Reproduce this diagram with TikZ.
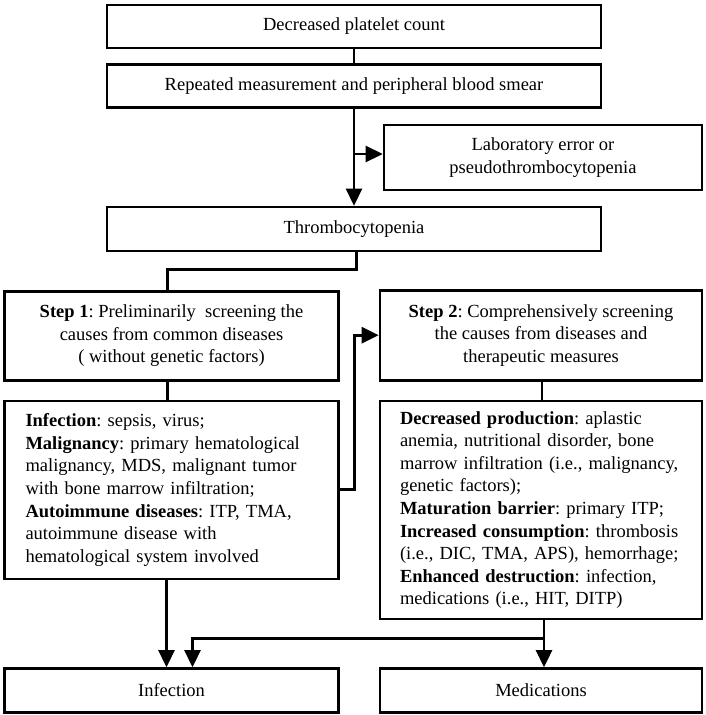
\documentclass[tikz,border=0pt]{standalone}
\usepackage{fontspec}
\setmainfont{Liberation Serif}
\usetikzlibrary{arrows.meta}
\begin{document}
\frenchspacing
\begin{tikzpicture}[x=1pt,y=-1pt,
  box/.style={draw=black, line width=2.6pt, fill=white, inner sep=0pt, align=center,
    font=\fontsize{18.5}{22.6}\selectfont\frenchspacing},
  listbox/.style={box, align=left, anchor=center},
  conn/.style={line width=2.6pt},
  arr/.style={conn, -{Triangle[length=17pt,width=16pt]}}
]
\useasboundingbox (0,0) rectangle (705,715);
\fill[white] (0,0) rectangle (705,715);

\node[box, minimum width=494pt, minimum height=43pt] (top) at (354,26.5) {Decreased platelet count};
\node[box, minimum width=494pt, minimum height=43pt] (rep) at (354,86) {Repeated measurement and peripheral blood smear};
\node[box, minimum width=318pt, minimum height=65pt] (lab) at (543,157.5) {Laboratory error or\\pseudothrombocytopenia};
\node[box, minimum width=494pt, minimum height=44pt] (thr) at (354,229) {Thrombocytopenia};

\node[box, minimum width=334pt, minimum height=89pt] (s1) at (171.5,335.7) {\textbf{Step 1}: Preliminarily\ \ screening the\\causes from common diseases\\( without genetic factors)};
\node[box, minimum width=322pt, minimum height=90pt] (s2) at (541,335.2) {\textbf{Step 2}: Comprehensively screening\\the causes from diseases and\\therapeutic measures};

\node[listbox, text width=292pt, inner xsep=21pt, minimum height=178pt] (d1) at (171.5,490)
 {\mbox{\textbf{Infection}: sepsis, virus;}\\
  \mbox{\textbf{Malignancy}: primary hematological}\\
  \mbox{malignancy, MDS, malignant tumor}\\
  \mbox{with bone marrow infiltration;}\\
  \mbox{\textbf{Autoimmune diseases}: ITP,\ TMA,}\\
  \mbox{autoimmune disease with}\\
  \mbox{hematological system involved}};
\node[listbox, text width=282pt, inner xsep=20pt, minimum height=218pt] (d2) at (541,510)
 {\mbox{\textbf{Decreased production}: aplastic}\\
  \mbox{anemia, nutritional disorder, bone}\\
  \mbox{marrow infiltration (i.e., malignancy,}\\
  \mbox{genetic factors);}\\
  \mbox{\textbf{Maturation barrier}: primary ITP;}\\
  \mbox{\textbf{Increased consumption}: thrombosis}\\
  \mbox{(i.e., DIC, TMA, APS), hemorrhage;}\\
  \mbox{\textbf{Enhanced destruction}: infection,}\\
  \mbox{medications (i.e., HIT, DITP)}};

\node[box, minimum width=334pt, minimum height=44pt] (inf) at (171.5,690.5) {Infection};
\node[box, minimum width=322pt, minimum height=44pt] (med) at (541,690.5) {Medications};

% connectors
\draw[conn] (top.south) -- (rep.north);
\draw[arr] (rep.south) -- (thr.north);
\coordinate (labsplit) at (rep.south |- 0,154);
\draw[arr] (labsplit) -- (lab.west |- labsplit);
\coordinate (thrturn) at (356.5,269.5);
\draw[conn] (thrturn |- thr.south) -- (thrturn) -| ([xshift=-4pt]s1.north);
\draw[conn] ([xshift=-4pt]s1.south) -- ([xshift=-4pt]d1.north);
\coordinate (s1x) at (354.3,489.3);
\draw[arr] (d1.east |- s1x) -- (s1x) |- (s2.west);
\draw[conn] ([xshift=1pt]s2.south) -- ([xshift=1pt]d2.north);
\draw[arr] ([xshift=-5pt]d1.south) -- ([xshift=-5pt]inf.north);
\coordinate (medsplit) at (544,638.3);
\draw[arr] (medsplit |- d2.south) -- (medsplit |- med.north);
\draw[arr] (medsplit) -| ([xshift=21pt]inf.north);
\end{tikzpicture}
\end{document}
